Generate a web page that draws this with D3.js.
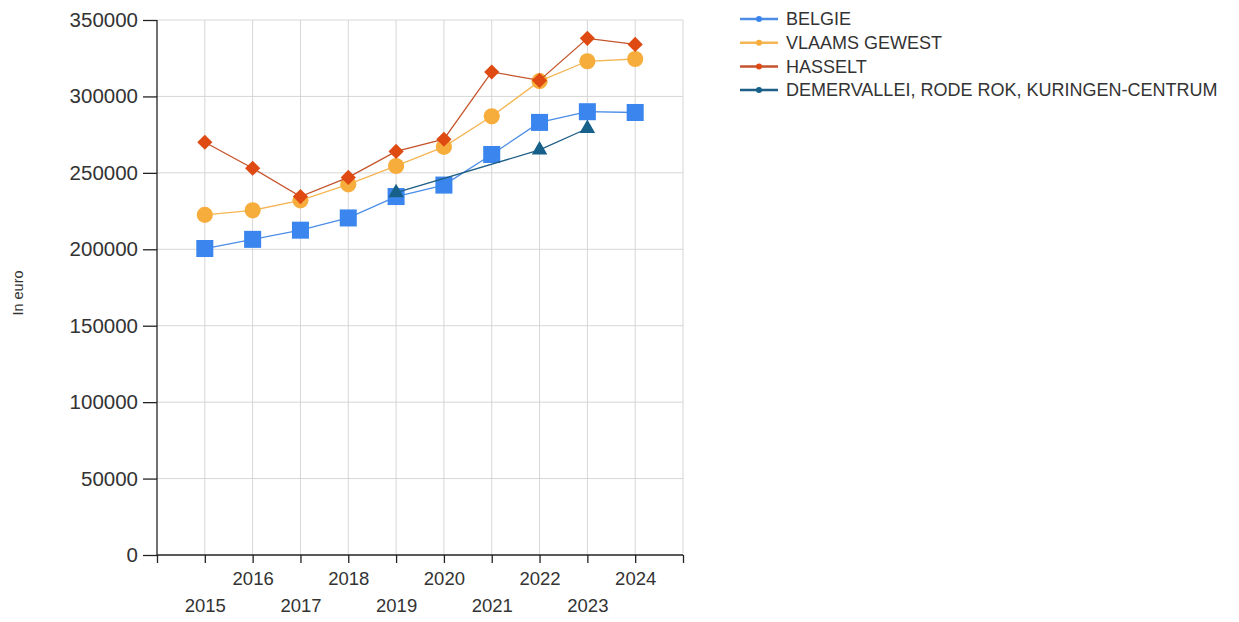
<!DOCTYPE html>
<html>
<head>
<meta charset="utf-8">
<title></title>
<style>
body { margin: 0; background: #fff; }
text { font-family: "Liberation Sans", Arial, sans-serif; fill: #333; }
.grid line { stroke: #d6d6d6; stroke-width: 1px; }
.axis path, .axis line { stroke: #222; stroke-width: 1.3px; }
.yaxis text { font-size: 20.5px; fill: #333; }
.xaxis text { font-size: 18.5px; fill: #333; }
.legend text { font-size: 18px; }
</style>
</head>
<body>
<script src="https://cdn.jsdelivr.net/npm/d3@7"></script>
<script>

// data
var years = [2015, 2016, 2017, 2018, 2019, 2020, 2021, 2022, 2023, 2024];
var belgie = [200500, 206500, 212500, 220500, 234500, 242000, 262000, 283000, 290000, 289500];
var vlaams = [222500, 225500, 232000, 242500, 254500, 267000, 287000, 310000, 323000, 324500];
var hasselt = [270000, 253000, 234500, 247000, 264000, 272000, 316000, 310500, 338000, 334000];
var demer = [null, null, null, null, 237000, null, null, 265000, 279000, null];
var yTicks = [0, 50000, 100000, 150000, 200000, 250000, 300000, 350000];

var series = [
  {name: "BELGIE", values: belgie, color: "#3a86ee", line: "#4b8de6", symbol: d3.symbolSquare, size: 290, rot: 0},
  {name: "VLAAMS GEWEST", values: vlaams, color: "#f7ad3c", line: "#f5b553", symbol: d3.symbolCircle, size: 205, rot: 0},
  {name: "HASSELT", values: hasselt, color: "#de4a12", line: "#c4532b", symbol: d3.symbolSquare, size: 115, rot: 45},
  {name: "DEMERVALLEI, RODE ROK, KURINGEN-CENTRUM", values: demer, color: "#166089", line: "#1f5e86", symbol: d3.symbolTriangle, size: 105, rot: 0}
];

var width = 1239, height = 622;
var pLeft = 157, pRight = 683, pTop = 20, pBottom = 555;

var svg = d3.select("body").append("svg")
    .attr("width", width)
    .attr("height", height);

var x = d3.scaleLinear().domain([2014, 2025]).range([pLeft, pRight]);
var y = d3.scaleLinear().domain([0, 350000]).range([pBottom, pTop]);

// grid
var grid = svg.append("g").attr("class", "grid");
grid.selectAll(".h").data(yTicks.slice(1)).enter().append("line")
    .attr("x1", pLeft).attr("x2", pRight)
    .attr("y1", function(d) { return y(d); })
    .attr("y2", function(d) { return y(d); });
grid.selectAll(".v").data(years.concat([2025])).enter().append("line")
    .attr("y1", pTop).attr("y2", pBottom)
    .attr("x1", function(d) { return x(d); })
    .attr("x2", function(d) { return x(d); });

// axes
svg.append("g")
    .attr("class", "axis yaxis")
    .attr("transform", "translate(" + pLeft + ",0)")
    .call(d3.axisLeft(y).tickValues(yTicks).tickFormat(d3.format("d")).tickSize(14).tickPadding(5))
    .call(function(g) { g.select(".domain").attr("d", "M0," + pTop + "V" + pBottom); });

var xAxis = svg.append("g")
    .attr("class", "axis xaxis")
    .attr("transform", "translate(0," + pBottom + ")")
    .call(d3.axisBottom(x).tickValues([2014].concat(years, [2025])).tickSize(8)
      .tickFormat(function(d) { return (d < 2015 || d > 2024) ? "" : d; }));
xAxis.select(".domain").attr("d", "M" + pLeft + ",0H" + pRight);
xAxis.selectAll(".tick text")
    .attr("y", function(d) { return d % 2 == 0 ? 17 : 44; });

// y title
svg.append("text")
    .attr("transform", "translate(23,293) rotate(-90)")
    .attr("text-anchor", "middle")
    .style("font-size", "14.5px")
    .text("In euro");

// lines + markers
var line = d3.line()
    .x(function(d) { return x(d.year); })
    .y(function(d) { return y(d.value); });

series.forEach(function(s) {
  var pts = years.map(function(yr, i) { return {year: yr, value: s.values[i]}; })
    .filter(function(d) { return d.value != null; });

  svg.append("path")
      .datum(pts)
      .attr("fill", "none")
      .attr("stroke", s.line)
      .attr("stroke-width", 1.3)
      .attr("d", line);

  svg.append("g").selectAll("path")
      .data(pts)
      .enter().append("path")
      .attr("transform", function(d) {
        return "translate(" + x(d.year) + "," + y(d.value) + ") rotate(" + s.rot + ")";
      })
      .attr("d", d3.symbol().type(s.symbol).size(s.size))
      .attr("fill", s.color);
});

// legend
var legend = svg.append("g").attr("class", "legend")
    .selectAll("g").data(series).enter().append("g")
    .attr("transform", function(d, i) { return "translate(740," + (19 + i * 23.7) + ")"; });
legend.append("line")
    .attr("x1", 0).attr("x2", 38)
    .attr("stroke", function(d) { return d.line; })
    .attr("stroke-width", 2.5);
legend.append("circle")
    .attr("cx", 19).attr("r", 3)
    .attr("fill", function(d) { return d.color; });
legend.append("text")
    .attr("x", 46).attr("dy", "0.35em")
    .text(function(d) { return d.name; });

</script>
</body>
</html>
